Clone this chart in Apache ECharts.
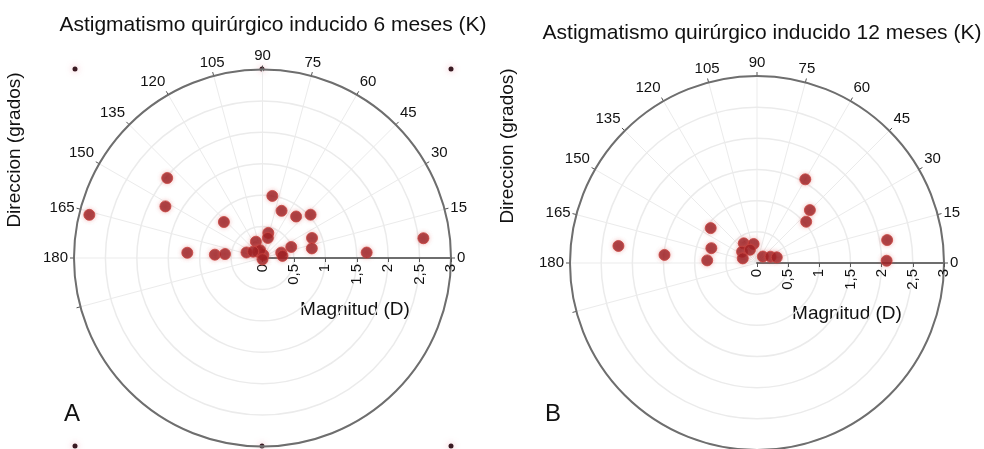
<!DOCTYPE html>
<html>
<head>
<meta charset="utf-8">
<script src="https://cdn.jsdelivr.net/npm/echarts@6/dist/echarts.min.js"></script>
<style>
  html, body { margin: 0; background: #fff; }
  #main { width: 984px; height: 449px; }
</style>
</head>
<body>
<div id="main"></div>
<script>
// angle labels shown on upper half only
var angleTicks = [0, 15, 30, 45, 60, 75, 90, 105, 120, 135, 150, 165, 180];
var radiusTicks = [0, 0.5, 1, 1.5, 2, 2.5, 3];

// [magnitud (D), direccion (grados)]
var sixMonths = [
  [2.84, 166], [1.98, 140], [1.75, 152], [0.84, 137], [1.0, 81],
  [0.81, 68], [0.85, 51], [1.03, 42], [0.85, 22], [0.80, 11],
  [0.41, 77], [0.33, 75], [1.20, 176], [0.76, 176], [0.60, 174],
  [0.27, 161], [0.28, 112], [0.12, 124], [0.05, 75], [0.13, 107],
  [0.31, 16], [0.32, 6], [0.49, 21], [1.66, 3], [2.58, 7],
  [0.18, 146], [0.02, 270]
];
var twelveMonths = [
  [2.24, 173], [1.49, 175], [0.93, 143], [0.77, 162], [0.80, 177],
  [0.38, 124], [0.30, 143], [0.24, 162], [0.31, 100], [0.14, 48],
  [0.24, 25], [0.33, 16], [1.55, 60], [1.20, 45], [1.03, 40],
  [2.12, 10], [2.08, 1], [0.24, 118]
];

var font = 'Liberation Sans, Arial, sans-serif';
var chart = echarts.init(document.getElementById('main'));

var panels = [
  { cx: 262.5, cy: 258, r: 188.5 },
  { cx: 757, cy: 263, r: 187 }
];

function angleAxis(i) {
  return {
    polarIndex: i,
    type: 'value',
    min: 0,
    max: 360,
    interval: 15,
    startAngle: 0,
    clockwise: false,
    axisLine: { lineStyle: { color: '#6e6e6e', width: 2 } },
    axisTick: { customValues: angleTicks.concat([195]), length: 4, lineStyle: { color: '#555' } },
    axisLabel: {
      customValues: angleTicks,
      margin: 6,
      color: '#111',
      fontSize: 15,
      fontFamily: font,
      formatter: function (v) { return v <= 180 ? String(v) : ''; }
    },
    splitLine: { lineStyle: { color: '#ebebeb', width: 1 } }
  };
}

function radiusAxis(i) {
  return {
    polarIndex: i,
    type: 'value',
    min: 0,
    max: 3,
    interval: 0.5,
    axisLine: { show: false },
    axisTick: { show: false },
    axisLabel: { show: false },
    splitLine: { lineStyle: { color: '#ebebeb', width: 1.5 } }
  };
}

// radial scale drawn as a cartesian x axis lying on the 0° ray
function magGrid(p) {
  return { left: p.cx, width: p.r, top: p.cy - 50, height: 50 };
}
function magAxis(i) {
  return {
    gridIndex: i,
    type: 'value',
    min: 0,
    max: 3,
    interval: 0.5,
    position: 'bottom',
    axisLine: { show: true, lineStyle: { color: '#6e6e6e', width: 2 } },
    axisTick: { show: true, length: 4, lineStyle: { color: '#555' } },
    splitLine: { show: false },
    axisLabel: {
      rotate: 90,
      margin: 6,
      color: '#111',
      fontSize: 15,
      fontFamily: font,
      showMinLabel: true,
      showMaxLabel: true,
      formatter: function (v) { return String(v).replace('.', ','); }
    }
  };
}
function hiddenY(i) {
  return { gridIndex: i, type: 'value', show: false, min: 0, max: 1 };
}

var marker = {
  color: '#981b1f',
  borderColor: '#c9433f',
  borderWidth: 1,
  shadowBlur: 4,
  shadowColor: 'rgba(220,90,90,0.45)'
};

var textStyle = { fill: '#111', fontSize: 19, fontFamily: font };

// small corner dots of the original figure (left panel)
function dot(x, y) {
  return { type: 'circle', shape: { cx: x, cy: y, r: 2.5 },
    style: { fill: '#3a1a22', shadowBlur: 6, shadowColor: 'rgba(230,120,140,0.6)' } };
}

chart.setOption({
  backgroundColor: '#fff',
  animation: false,
  title: [
    { text: 'Astigmatismo quirúrgico inducido 6 meses (K)', left: 268, top: 10, textAlign: 'center',
      textStyle: { fontSize: 21, fontWeight: 'normal', color: '#111', fontFamily: font } },
    { text: 'Astigmatismo quirúrgico inducido 12 meses (K)', left: 757, top: 18, textAlign: 'center',
      textStyle: { fontSize: 21, fontWeight: 'normal', color: '#111', fontFamily: font } }
  ],
  polar: panels.map(function (p) { return { center: [p.cx, p.cy], radius: p.r }; }),
  angleAxis: [angleAxis(0), angleAxis(1)],
  radiusAxis: [radiusAxis(0), radiusAxis(1)],
  grid: panels.map(magGrid),
  xAxis: [magAxis(0), magAxis(1)],
  yAxis: [hiddenY(0), hiddenY(1)],
  series: [
    { type: 'scatter', coordinateSystem: 'polar', polarIndex: 0, symbolSize: 11, z: 5,
      itemStyle: marker, data: sixMonths },
    { type: 'scatter', coordinateSystem: 'polar', polarIndex: 1, symbolSize: 11, z: 5,
      itemStyle: marker, data: twelveMonths }
  ],
  graphic: [
    dot(75, 69), dot(451, 69), dot(262, 69), dot(75, 446), dot(262, 446), dot(451, 446),
    { type: 'text', x: 15, y: 150, rotation: Math.PI / 2,
      style: Object.assign({ text: 'Direccion (grados)', align: 'center', verticalAlign: 'middle' }, textStyle) },
    { type: 'text', x: 508, y: 146, rotation: Math.PI / 2,
      style: Object.assign({ text: 'Direccion (grados)', align: 'center', verticalAlign: 'middle' }, textStyle) },
    { type: 'text', x: 355, y: 310,
      style: Object.assign({ text: 'Magnitud (D)', align: 'center', verticalAlign: 'middle' }, textStyle) },
    { type: 'text', x: 847, y: 314,
      style: Object.assign({ text: 'Magnitud (D)', align: 'center', verticalAlign: 'middle' }, textStyle) },
    { type: 'text', x: 72, y: 414,
      style: { text: 'A', align: 'center', verticalAlign: 'middle', fill: '#111', fontSize: 24, fontFamily: font } },
    { type: 'text', x: 553, y: 414,
      style: { text: 'B', align: 'center', verticalAlign: 'middle', fill: '#111', fontSize: 24, fontFamily: font } }
  ]
});
</script>
</body>
</html>
